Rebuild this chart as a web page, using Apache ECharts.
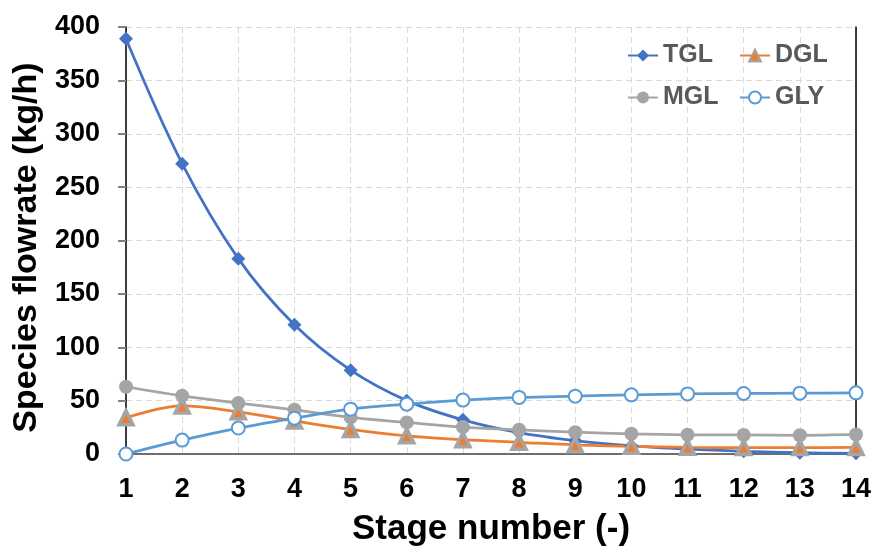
<!DOCTYPE html>
<html>
<head>
<meta charset="utf-8">
<script src="https://cdn.jsdelivr.net/npm/echarts@6/dist/echarts.min.js"></script>
<style>
html,body{margin:0;padding:0;background:#fff;}
#chart{width:877px;height:552px;}
</style>
</head>
<body>
<div id="chart"></div>
<script>
const stages = ['1','2','3','4','5','6','7','8','9','10','11','12','13','14'];
const TGL = [389, 272, 183, 121, 78.5, 50, 32, 20, 12.5, 7.5, 4.5, 2.5, 1.2, 0.6];
const DGL = [34, 45, 39.5, 31, 23, 17, 13.4, 11, 8.6, 7.2, 6.3, 6, 6, 6.2];
const MGL = [63, 54.5, 47.7, 41.4, 34.3, 29.6, 25.2, 22.7, 20.4, 18.9, 18, 17.8, 17.5, 18.3];
const GLY = [0, 13, 24.3, 33.6, 42, 46.7, 50.5, 53, 54.2, 55.4, 56.3, 56.7, 57, 57.3];
const yTicks = {min: 0, max: 400, interval: 50};

const FONT = 'Liberation Sans, Arial, sans-serif';
const chart = echarts.init(document.getElementById('chart'));

const legendBase = {
  orient: 'horizontal',
  itemWidth: 30,
  itemHeight: 15,
  itemGap: 6,
  textStyle: {fontFamily: FONT, fontWeight: 'bold', fontSize: 25, color: '#595959', padding: [0,0,0,0]},
  padding: 0
};

function mk(name, data, color, symbol, size, extra) {
  return Object.assign({
    name: name,
    type: 'line',
    data: data,
    smooth: 0.35,
    symbol: symbol,
    symbolSize: size,
    lineStyle: {color: color, width: 2.75},
    itemStyle: {color: color},
    z: 3
  }, extra || {});
}

chart.setOption({
  animation: false,
  backgroundColor: '#fff',
  grid: {left: 126, right: 21, top: 27, bottom: 97, containLabel: false},
  legend: [
    Object.assign({}, legendBase, {data: ['TGL'], left: 627, top: 43}),
    Object.assign({}, legendBase, {data: ['DGL'], left: 739, top: 43}),
    Object.assign({}, legendBase, {data: ['MGL'], left: 627, top: 85}),
    Object.assign({}, legendBase, {data: ['GLY'], left: 739, top: 85})
  ],
  xAxis: [{
    type: 'category',
    data: stages,
    boundaryGap: false,
    name: 'Stage number (-)',
    nameLocation: 'middle',
    nameGap: 58,
    nameTextStyle: {fontFamily: FONT, fontWeight: 'bold', fontSize: 35, color: '#000'},
    axisLine: {lineStyle: {color: '#000', width: 1.5}},
    axisTick: {show: false},
    axisLabel: {fontFamily: FONT, fontWeight: 'bold', fontSize: 27, color: '#000', margin: 22},
    splitLine: {show: true, lineStyle: {color: '#d9d9d9', type: [6, 4], width: 1}}
  }, {
    type: 'category',
    data: stages,
    boundaryGap: false,
    position: 'top',
    axisLine: {show: true, lineStyle: {color: '#808080', width: 1.5}},
    axisTick: {show: false},
    axisLabel: {show: false},
    splitLine: {show: false}
  }],
  yAxis: [{
    type: 'value',
    min: yTicks.min,
    max: yTicks.max,
    interval: yTicks.interval,
    name: 'Species flowrate (kg/h)',
    nameLocation: 'middle',
    nameGap: 79,
    nameTextStyle: {fontFamily: FONT, fontWeight: 'bold', fontSize: 34, color: '#000', padding: [0, 14, 0, 0]},
    axisLine: {show: true, lineStyle: {color: '#000', width: 1.5}},
    axisTick: {show: true, inside: false, length: 8, lineStyle: {color: '#808080', width: 2}},
    axisLabel: {fontFamily: FONT, fontWeight: 'bold', fontSize: 27, color: '#000', margin: 26},
    splitLine: {show: true, lineStyle: {color: '#d9d9d9', type: [6, 4], width: 1}}
  }, {
    type: 'value',
    min: yTicks.min,
    max: yTicks.max,
    interval: yTicks.interval,
    position: 'right',
    axisLine: {show: true, lineStyle: {color: '#000', width: 1.5}},
    axisTick: {show: false},
    axisLabel: {show: false},
    splitLine: {show: false}
  }],
  series: [
    mk('TGL', TGL, '#4472C4', 'diamond', 14),
    mk('DGL', DGL, '#ED7D31', 'triangle', 14, {itemStyle: {color: '#ED7D31', borderColor: '#A5A5A5', borderWidth: 3.5}}),
    mk('MGL', MGL, '#A5A5A5', 'circle', 14),
    mk('GLY', GLY, '#5B9BD5', 'emptyCircle', 13, {itemStyle: {color: '#5B9BD5', borderWidth: 1.5}})
  ]
});
</script>
</body>
</html>
